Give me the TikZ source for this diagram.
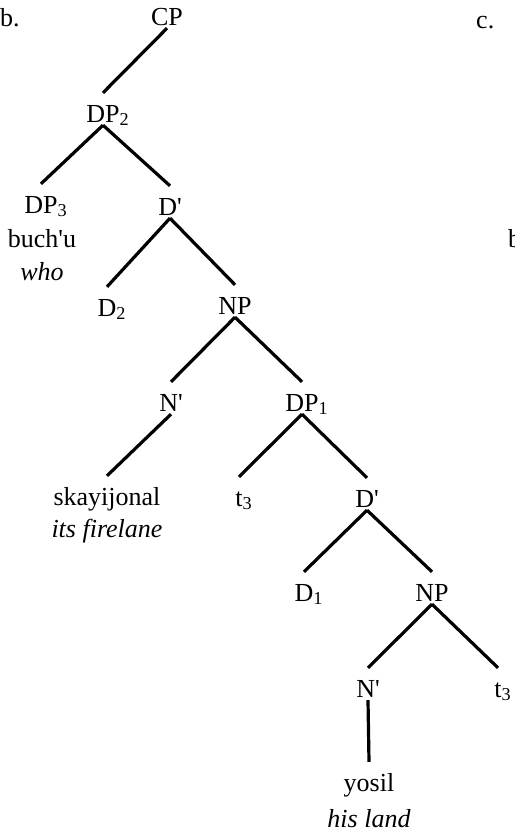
\documentclass[tikz,border=0pt]{standalone}
\usepackage{fontspec}
\setmainfont{Liberation Serif}

% subscript index that takes no width, so the node centres on the category
\newcommand{\subidx}[1]{\rlap{\textsubscript{#1}}}
% straight prime, as printed
\newcommand{\prm}{\textquotesingle}

\begin{document}
\begin{tikzpicture}[x=1pt,y=-1pt,
    font=\fontsize{26}{31}\selectfont,
    cat/.style={inner sep=0pt, anchor=base, text height=29pt, text depth=3pt},
    gloss/.style={inner sep=0pt, anchor=base},
    branch/.style={line width=3.2pt}]

  \useasboundingbox (0,0) rectangle (514,835);

  % Labels
  \node (lblb) at (0,27) [gloss, anchor=base west] {b.};
  \node (lblc) at (476,28) [gloss, anchor=base west] {c.};
  \node (cword) at (508,247) [gloss, anchor=base west] {b};

  % Tree
  \node (cp) at (167,25) [cat] {CP};
  \node (dpTwo) at (103,122) [cat] {DP\subidx{2}};
  %
  \node (dpThree) at (41,213) [cat] {DP\subidx{3}};
  \node (buchu) at (42,247) [gloss] {buch\prm u};
  \node (who) at (42,280) [gloss] {\itshape who};
  \node (dbarTop) at (170,215) [cat] {D\prm};
  %
  \node (dTwo) at (107,316) [cat] {D\subidx{2}};
  \node (npTop) at (235,314) [cat] {NP};
  %
  \node (nbarTop) at (171,411) [cat] {N\prm};
  \node (dpOne) at (302,411) [cat] {DP\subidx{1}};
  %
  \node (skay) at (107,505) [cat] {skayijonal};
  \node (firelane) at (107,537) [gloss] {\itshape its firelane};
  \node (tThreeTop) at (239,506) [cat] {t\subidx{3}};
  \node (dbarMid) at (367,507) [cat] {D\prm};
  %
  \node (dOne) at (304,601) [cat] {D\subidx{1}};
  \node (npLow) at (432,601) [cat] {NP};
  %
  \node (nbarLow) at (368,697) [cat] {N\prm};
  \node (tThreeLow) at (498,697) [cat] {t\subidx{3}};
  %
  \node (yosil) at (369,791) [cat] {yosil};
  \node (land) at (369,827) [gloss] {\itshape his land};

  %% Lines
  \draw[branch] (cp.south) -- (dpTwo.north);
  \draw[branch] (dpTwo.south) -- (dpThree.north);
  \draw[branch] (dpTwo.south) -- (dbarTop.north);
  \draw[branch] (dbarTop.south) -- (dTwo.north);
  \draw[branch] (dbarTop.south) -- (npTop.north);
  \draw[branch] (npTop.south) -- (nbarTop.north);
  \draw[branch] (npTop.south) -- (dpOne.north);
  \draw[branch] (nbarTop.south) -- (skay.north);
  \draw[branch] (dpOne.south) -- (tThreeTop.north);
  \draw[branch] (dpOne.south) -- (dbarMid.north);
  \draw[branch] (dbarMid.south) -- (dOne.north);
  \draw[branch] (dbarMid.south) -- (npLow.north);
  \draw[branch] (npLow.south) -- (nbarLow.north);
  \draw[branch] (npLow.south) -- (tThreeLow.north);
  \draw[branch] (nbarLow.south) -- (yosil.north);
\end{tikzpicture}
\end{document}
